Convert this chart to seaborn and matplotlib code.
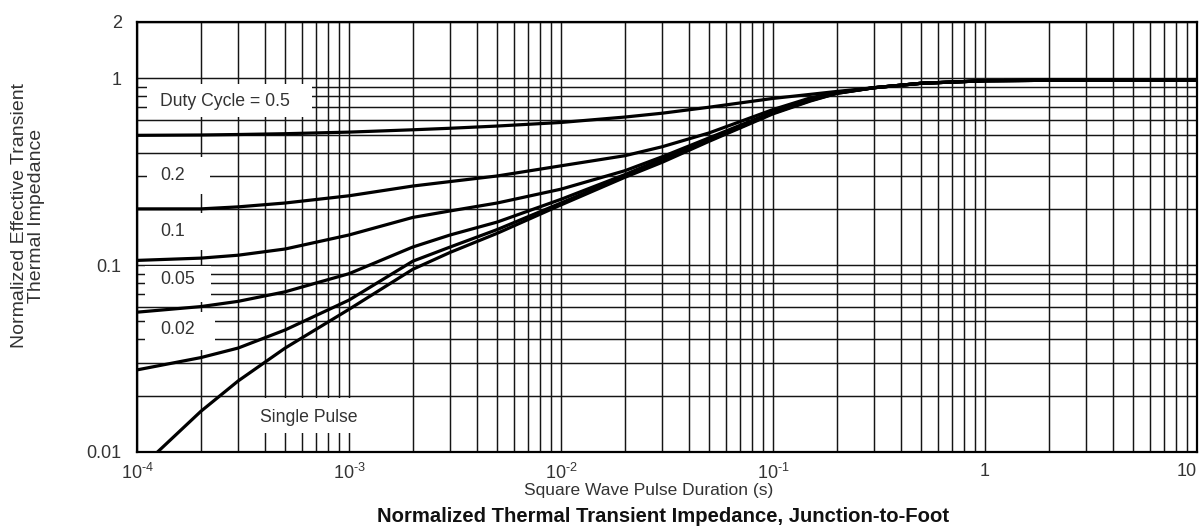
import numpy as np
import pandas as pd
import matplotlib
matplotlib.use("Agg")
import matplotlib.pyplot as plt
from matplotlib.patches import Rectangle
from matplotlib.ticker import FixedLocator, FixedFormatter, NullFormatter
import seaborn as sns

# Pulse duration (s) sampled for each duty-cycle curve
pulse_time = [1e-4, 2e-4, 3e-4, 5e-4, 1e-3, 2e-3, 3e-3, 5e-3, 1e-2, 2e-2, 3e-2,
              5e-2, 1e-1, 1.5e-1, 2e-1, 3e-1, 5e-1, 1, 2, 10]
single_time = [1.25e-4, 2e-4, 3e-4, 5e-4, 1e-3, 2e-3, 3e-3, 5e-3, 1e-2, 2e-2, 3e-2,
               5e-2, 1e-1, 1.5e-1, 2e-1, 3e-1, 5e-1, 1, 2, 10]

# Normalized effective transient thermal impedance
z_d050 = [0.495, 0.497, 0.50, 0.505, 0.515, 0.53, 0.54, 0.555, 0.58, 0.62, 0.65,
          0.70, 0.78, 0.82, 0.85, 0.89, 0.94, 0.97, 0.975, 0.975]
z_d020 = [0.20, 0.20, 0.205, 0.215, 0.235, 0.265, 0.28, 0.30, 0.34, 0.385, 0.43,
          0.51, 0.68, 0.785, 0.84, 0.89, 0.94, 0.97, 0.975, 0.975]
z_d010 = [0.106, 0.109, 0.113, 0.122, 0.145, 0.18, 0.195, 0.215, 0.255, 0.32, 0.38,
          0.48, 0.66, 0.77, 0.835, 0.89, 0.94, 0.97, 0.975, 0.975]
z_d005 = [0.056, 0.060, 0.064, 0.072, 0.09, 0.125, 0.145, 0.17, 0.225, 0.305, 0.37,
          0.47, 0.655, 0.765, 0.835, 0.89, 0.94, 0.97, 0.975, 0.975]
z_d002 = [0.0275, 0.032, 0.036, 0.045, 0.065, 0.105, 0.125, 0.155, 0.215, 0.30, 0.36,
          0.465, 0.65, 0.76, 0.83, 0.89, 0.94, 0.97, 0.975, 0.975]
z_single = [0.01, 0.0165, 0.024, 0.036, 0.058, 0.095, 0.117, 0.148, 0.21, 0.295, 0.355,
            0.46, 0.645, 0.755, 0.83, 0.89, 0.94, 0.97, 0.975, 0.975]

curve_names = ["0.5", "0.2", "0.1", "0.05", "0.02", "Single Pulse"]
x_ticks = [1e-4, 1e-3, 1e-2, 1e-1, 1, 10]
x_tick_labels = [r"$10^{\text{-}4}$", r"$10^{\text{-}3}$", r"$10^{\text{-}2}$",
                 r"$10^{\text{-}1}$", "1", "10"]
y_ticks = [0.01, 0.1, 1, 2]
y_tick_labels = ["0.01", "0.1", "1", "2"]

frames = []
for name, t, z in zip(curve_names,
                      [pulse_time] * 5 + [single_time],
                      [z_d050, z_d020, z_d010, z_d005, z_d002, z_single]):
    frames.append(pd.DataFrame({"t": t, "z": z, "curve": name}))
df = pd.concat(frames, ignore_index=True)

sns.set_theme(style="white")
plt.rcParams["font.family"] = ["Liberation Sans", "DejaVu Sans"]
plt.rcParams["mathtext.fontset"] = "custom"
plt.rcParams["mathtext.rm"] = "Liberation Sans"
plt.rcParams["mathtext.it"] = "Liberation Sans"

fig = plt.figure(figsize=(12.04, 5.32), dpi=100)
ax = fig.add_axes([137 / 1204, 1 - 452 / 532, 1060 / 1204, 430 / 532])

sns.lineplot(data=df, x="t", y="z", hue="curve", palette={n: "black" for n in curve_names},
             estimator=None, sort=False, legend=False, linewidth=2.3, ax=ax, zorder=3)

ax.set_xscale("log")
ax.set_yscale("log")
ax.set_xlim(1e-4, 10)
ax.set_ylim(0.01, 2)

# Grid: every 1..9 subdivision vertically; horizontal grid only up to 1
ax.xaxis.set_major_locator(FixedLocator(x_ticks))
ax.xaxis.set_major_formatter(FixedFormatter(x_tick_labels))
x_minor = [k * 10.0 ** d for d in range(-4, 1) for k in range(2, 10)]
ax.xaxis.set_minor_locator(FixedLocator(x_minor))
ax.xaxis.set_minor_formatter(NullFormatter())
ax.yaxis.set_major_locator(FixedLocator(y_ticks))
ax.yaxis.set_major_formatter(FixedFormatter(y_tick_labels))
y_minor = [k * 10.0 ** d for d in (-2, -1) for k in range(2, 10)]
ax.yaxis.set_minor_locator(FixedLocator(y_minor))
ax.yaxis.set_minor_formatter(NullFormatter())

ax.set_axisbelow(True)
ax.grid(True, which="both", color="#151515", linewidth=1.05)
ax.tick_params(which="both", length=0)
ax.tick_params(axis="x", pad=8, labelsize=13, labelcolor="#333333")
ax.tick_params(axis="y", pad=11, labelsize=13, labelcolor="#333333")
ax.get_xticklabels()[-1].set_horizontalalignment("right")
for sp in ax.spines.values():
    sp.set_visible(True)
    sp.set_color("black")
    sp.set_linewidth(1.6)
ax.set_xlabel("")
ax.set_ylabel("")

# White label panels (pixel boxes converted to axes fraction)
def px_box(x0, y0, x1, y1):
    return ((x0 - 137) / 1060, (452 - y1) / 430, (x1 - x0) / 1060, (y1 - y0) / 430)

boxes = [(147, 84, 312, 117), (147, 157, 210, 194), (147, 213, 210, 250),
         (145, 266, 211, 302), (145, 312, 215, 350), (245, 398, 370, 433)]
for b in boxes:
    x, y, w, h = px_box(*b)
    ax.add_patch(Rectangle((x, y), w, h, transform=ax.transAxes, facecolor="white",
                           edgecolor="none", zorder=1))

labels = [("Duty Cycle = 0.5", 160, 101), ("0.2", 160, 176), ("0.1", 160, 232),
          ("0.05", 160, 280), ("0.02", 160, 330), ("Single Pulse", 260, 417)]
for txt, px, py in labels:
    ax.text((px - 137) / 1060, (452 - py) / 430, txt, transform=ax.transAxes,
            ha="left", va="center", fontsize=12.7, color="#333333", zorder=4)

fig.text(649 / 1204, 1 - 490 / 532, "Square Wave Pulse Duration (s)", ha="center",
         va="center", fontsize=12.5, color="#333333")
fig.text(663 / 1204, 1 - 517 / 532,
         "Normalized Thermal Transient Impedance, Junction-to-Foot",
         ha="center", va="center", fontsize=14.6, fontweight="bold", color="#111111")
fig.text(28 / 1204, 1 - 216 / 532, "Normalized Effective Transient\nThermal Impedance",
         ha="center", va="center", rotation=90, fontsize=14, color="#333333",
         multialignment="center", linespacing=1.0)

fig.savefig("out.png", dpi=100)
